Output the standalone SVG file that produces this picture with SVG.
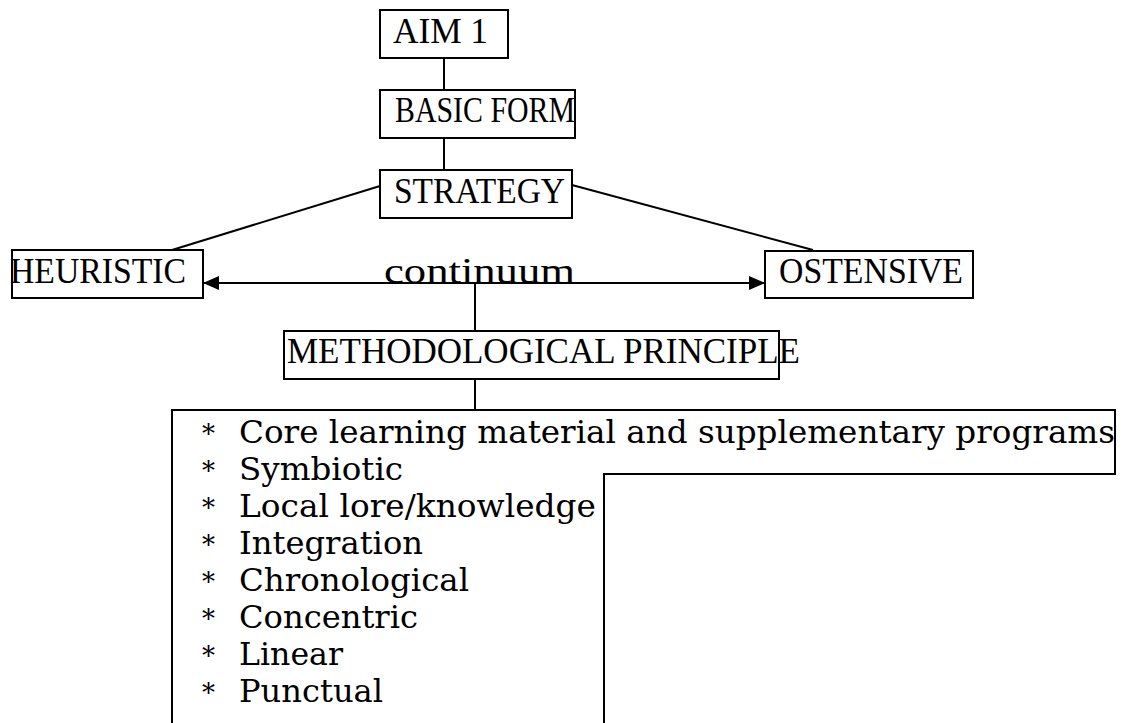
<svg xmlns="http://www.w3.org/2000/svg" width="1123" height="723" viewBox="0 0 1123 723">
<style>
.box{fill:#fff;stroke:#000;stroke-width:2}
.lbl{font-family:"Liberation Serif","Times New Roman",serif;font-size:36px;fill:#000}
.lst{font-family:"DejaVu Serif",serif;font-size:32px;fill:#000}
.ln{stroke:#000;stroke-width:2;fill:none}
</style>
<defs>
<marker id="ah" viewBox="0 0 16 14" refX="16" refY="7" markerWidth="16" markerHeight="14" markerUnits="userSpaceOnUse" orient="auto-start-reverse">
<path d="M0,0 L16,7 L0,14 Z" fill="#000"/>
</marker>
</defs>
<rect width="1123" height="723" fill="#fff"/>
<g id="connectors">
<line class="ln" x1="444" y1="58" x2="444" y2="90"/>
<line class="ln" x1="444" y1="138" x2="444" y2="170"/>
<line class="ln" x1="380" y1="186" x2="172" y2="250"/>
<line class="ln" x1="572" y1="185" x2="813" y2="250"/>
<line class="ln" x1="203" y1="283" x2="765" y2="283" marker-start="url(#ah)" marker-end="url(#ah)"/>
<line class="ln" x1="475" y1="283" x2="475" y2="331"/>
<line class="ln" x1="475" y1="379" x2="475" y2="410"/>
</g>
<g id="aim1"><rect class="box" x="380" y="10" width="128" height="48"/><text class="lbl" x="393" y="43" textLength="95" lengthAdjust="spacingAndGlyphs">AIM 1</text></g>
<g id="basicform"><rect class="box" x="380" y="90" width="195" height="48"/><text class="lbl" x="395" y="122" textLength="180" lengthAdjust="spacingAndGlyphs">BASIC FORM</text></g>
<g id="strategy"><rect class="box" x="380" y="170" width="192" height="48"/><text class="lbl" x="394" y="203" textLength="171" lengthAdjust="spacingAndGlyphs">STRATEGY</text></g>
<g id="heuristic"><rect class="box" x="12" y="250" width="191" height="48"/><text class="lbl" x="10" y="283" textLength="176" lengthAdjust="spacingAndGlyphs">HEURISTIC</text></g>
<g id="ostensive"><rect class="box" x="765" y="251" width="208" height="47"/><text class="lbl" x="779" y="283" textLength="184" lengthAdjust="spacingAndGlyphs">OSTENSIVE</text></g>
<g id="continuum"><text class="lbl" x="384" y="283" textLength="191" lengthAdjust="spacingAndGlyphs">continuum</text></g>
<g id="methodological"><rect class="box" x="284" y="331" width="495" height="48"/><text class="lbl" x="287" y="363" textLength="513" lengthAdjust="spacingAndGlyphs">METHODOLOGICAL PRINCIPLE</text></g>
<g id="principles">
<path class="box" d="M172,724 L172,410 L1115,410 L1115,474 L604,474 L604,724"/>
<g class="lst">
<text x="202" y="443" font-size="26">*</text><text x="239" y="443" textLength="876" lengthAdjust="spacingAndGlyphs">Core learning material and supplementary programs</text>
<text x="202" y="480" font-size="26">*</text><text x="239" y="480" textLength="164" lengthAdjust="spacingAndGlyphs">Symbiotic</text>
<text x="202" y="517" font-size="26">*</text><text x="239" y="517" textLength="357" lengthAdjust="spacingAndGlyphs">Local lore/knowledge</text>
<text x="202" y="554" font-size="26">*</text><text x="239" y="554" textLength="184" lengthAdjust="spacingAndGlyphs">Integration</text>
<text x="202" y="591" font-size="26">*</text><text x="239" y="591" textLength="230" lengthAdjust="spacingAndGlyphs">Chronological</text>
<text x="202" y="628" font-size="26">*</text><text x="239" y="628" textLength="179" lengthAdjust="spacingAndGlyphs">Concentric</text>
<text x="202" y="665" font-size="26">*</text><text x="239" y="665" textLength="104" lengthAdjust="spacingAndGlyphs">Linear</text>
<text x="202" y="702" font-size="26">*</text><text x="239" y="702" textLength="144" lengthAdjust="spacingAndGlyphs">Punctual</text>
</g>
</g>
</svg>
